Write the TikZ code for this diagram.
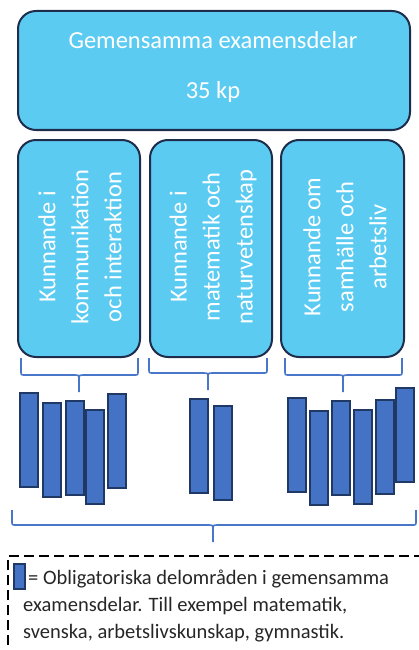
\documentclass[tikz,border=0pt]{standalone}
\usepackage{fontspec}
\setmainfont{Carlito}
\definecolor{boxfill}{RGB}{92,203,242}
\definecolor{boxline}{RGB}{30,45,75}
\definecolor{barfill}{RGB}{68,114,196}
\definecolor{barline}{RGB}{31,56,100}
\definecolor{bracecol}{RGB}{72,118,200}
\definecolor{legendtext}{RGB}{38,38,38}
\newcommand\mybrace[6]{% x1, x2, xm, top, h, tip
  \draw[bracestyle] (#1,#4) -- (#1,#5-4) .. controls (#1,#5) .. (#1+4,#5) -- (#3-5,#5) .. controls (#3,#5) .. (#3,#5+5) -- (#3,#6);
  \draw[bracestyle] (#2,#4) -- (#2,#5-4) .. controls (#2,#5) .. (#2-4,#5) -- (#3+5,#5) .. controls (#3,#5) .. (#3,#5+5);
}
\begin{document}
\begin{tikzpicture}[x=1pt,y=-1pt,
  mainbox/.style={draw=boxline, line width=2pt, fill=boxfill, rounded corners=18pt, inner sep=0pt, anchor=north west},
  boxtext/.style={text=white, font=\fontsize{24.5}{33}\selectfont, inner sep=0pt},
  coltext/.style={text=white, font=\fontsize{24.5}{33}\selectfont, align=center, rotate=90, inner sep=0pt},
  bar/.style={draw=barline, line width=1.5pt, fill=barfill, minimum width=18pt, minimum height=94pt, inner sep=0pt, anchor=north west},
  bracestyle/.style={draw=bracecol, line width=1.6pt},
  dashline/.style={draw=black, line width=2pt, dash pattern=on 10pt off 5pt},
  legtext/.style={text=legendtext, font=\fontsize{20.5}{27}\selectfont, inner sep=0pt, anchor=base west}]
\useasboundingbox (0,0) rectangle (418,650);

% top box
\node[mainbox, minimum width=392pt, minimum height=119pt] (top) at (17,10) {};
\node[boxtext, anchor=base] (toptitle) at (213,49) {Gemensamma examensdelar};
\node[boxtext, anchor=base] (topkp) at (213,99) {35 kp};

% column boxes
\node[mainbox, minimum width=122pt, minimum height=217pt] (c1) at (17,139) {};
\node[mainbox, minimum width=122pt, minimum height=217pt] (c2) at (149,139) {};
\node[mainbox, minimum width=123pt, minimum height=217pt] (c3) at (280,139) {};
\node[coltext] (c1t) at (80,247) {Kunnande i\\kommunikation\\och interaktion};
\node[coltext] (c2t) at (213,247) {Kunnande i\\matematik och\\naturvetenskap};
\node[coltext] (c3t) at (345,247) {Kunnande om\\samhälle och\\arbetsliv};

% braces
\mybrace{21}{138}{79}{358}{375}{392}
\mybrace{149}{267}{208}{358}{373}{390}
\mybrace{285}{402}{343}{358}{375}{392}
\mybrace{12}{416}{213}{510}{525}{542}

% bars
\foreach \i/\x/\y in {a/19/392, b/42/402, c/65/400, d/85/409, e/107/393,
                      f/189/398, g/213/405,
                      h/287/397, k/309/410, l/331/400, m/353/409, n/375/399, o/395/387}
  \node[bar] (bar\i) at (\x,\y) {};

% legend
\coordinate (dA) at (8,660);
\coordinate (dB) at (8,556);
\coordinate (dC) at (430,556);
\draw[dashline] (dA) -- (dB) -- (dC);
\node[bar, minimum width=11pt, minimum height=25pt] (legbar) at (13,563) {};
\node[legtext] (l1) at (28,584) {= Obligatoriska delområden i gemensamma};
\node[legtext] (l2) at (23,611) {examensdelar. Till exempel matematik,};
\node[legtext] (l3) at (23,638) {svenska, arbetslivskunskap, gymnastik.};
\end{tikzpicture}
\end{document}
